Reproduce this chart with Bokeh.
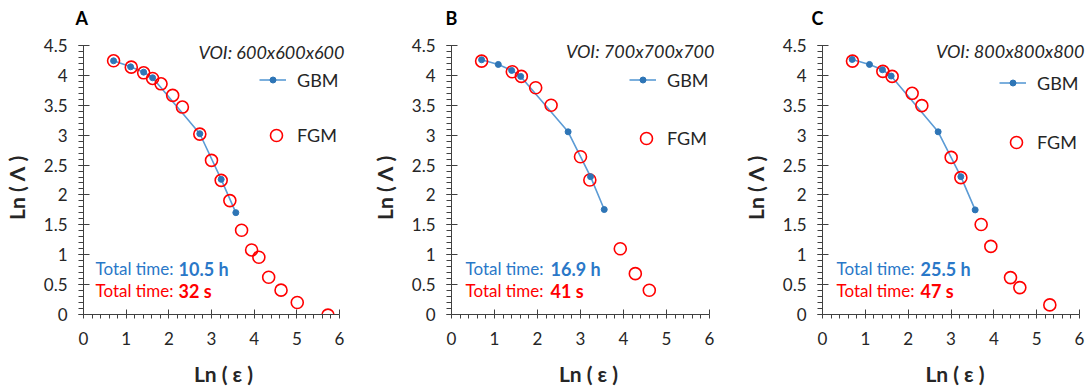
from bokeh.plotting import figure
from bokeh.models import (Label, Legend, LegendItem, SingleIntervalTicker,
                          NumeralTickFormatter, Range1d)
from bokeh.layouts import row
from bokeh.embed import file_html
from bokeh.resources import INLINE

# ---------------- data ----------------
panel_letters = ["A", "B", "C"]
voi_labels = ["VOI: 600x600x600", "VOI: 700x700x700", "VOI: 800x800x800"]
gbm_times = ["10.5 h", "16.9 h", "25.5 h"]
fgm_times = ["32 s", "41 s", "47 s"]

gbm_x_a = [0.705, 1.104, 1.41, 1.62, 2.726, 3.227, 3.57]
gbm_y_a = [4.244, 4.143, 4.054, 3.96, 3.024, 2.261, 1.704]
fgm_x_a = [0.705, 1.12, 1.41, 1.62, 1.817, 2.09, 2.318, 2.726, 3.0, 3.227,
           3.43, 3.705, 3.94, 4.11, 4.34, 4.63, 5.01, 5.73]
fgm_y_a = [4.244, 4.138, 4.043, 3.949, 3.859, 3.665, 3.47, 3.018, 2.579, 2.244,
           1.905, 1.409, 1.080, 0.958, 0.624, 0.407, 0.200, -0.011]

gbm_x_b = [0.70, 1.088, 1.399, 1.609, 2.712, 3.233, 3.552]
gbm_y_b = [4.261, 4.183, 4.083, 3.983, 3.056, 2.306, 1.756]
fgm_x_b = [0.70, 1.414, 1.624, 1.958, 2.316, 3.0, 3.217, 3.925, 4.275, 4.60]
fgm_y_b = [4.239, 4.061, 3.983, 3.794, 3.5, 2.639, 2.25, 1.1, 0.683, 0.406]

gbm_x_c = [0.693, 1.097, 1.40, 1.603, 2.70, 3.23, 3.564]
gbm_y_c = [4.267, 4.183, 4.094, 3.989, 3.056, 2.306, 1.75]
fgm_x_c = [0.70, 1.409, 1.626, 2.093, 2.319, 3.004, 3.23, 3.704, 3.93, 4.389,
           4.607, 5.307]
fgm_y_c = [4.239, 4.067, 3.983, 3.7, 3.494, 2.628, 2.289, 1.506, 1.139, 0.617,
           0.45, 0.161]

gbm_x = [gbm_x_a, gbm_x_b, gbm_x_c]
gbm_y = [gbm_y_a, gbm_y_b, gbm_y_c]
fgm_x = [fgm_x_a, fgm_x_b, fgm_x_c]
fgm_y = [fgm_y_a, fgm_y_b, fgm_y_c]

x_title = "Ln ( ε )"
y_title = "Ln ( Λ )"

# ---------------- styling / layout ----------------
FONT = "Lato"
TXT = "#262626"
AXIS = "#404040"
BLUE_LINE = "#5B9BD5"
BLUE_DOT = "#2E75B6"
BLUE_TXT = "#2A78C8"
RED = "#FF0000"

X0, X1, Y0, Y1 = 0, 6, 0, 4.5
PW = 362                      # width of one panel
AX_TOP, AX_BOTTOM = 45, 314   # pixel rows of y = 4.5 and y = 0
FTOP = 30                     # frame top (room for the panel letter above)
BOTTOM = 391 - AX_BOTTOM
# (global offset, pixel column of x = 0, pixel width of 0..6)
panels = [(0, 82, 256), (362, 88, 258), (724, 97, 257)]
legend_pos = [(258, 83, 135), (628, 83, 138), (998, 86, 142)]
voi_pos = [(343, 51), (713, 50), (1083, 50)]
letter_x = [74, 444, 810]
time_pos = [(94, 177), (464, 549), (835, 919)]
YPAD = "\u00a0" * 6           # shifts the rotated y title slightly downwards

SY = (AX_BOTTOM - AX_TOP) / (Y1 - Y0)


def to_data(i, gx, gy):
    off, left, fw = panels[i]
    sx = fw / (X1 - X0)
    return (gx - off - left) / sx + X0, (AX_BOTTOM - gy) / SY + Y0


figs = []
for i in range(3):
    off, left, fw = panels[i]
    sx = fw / (X1 - X0)
    frame_w = PW - left
    frame_h = AX_BOTTOM - FTOP
    p = figure(frame_width=frame_w, frame_height=frame_h, min_border_left=left,
               min_border_right=0, min_border_top=FTOP, min_border_bottom=BOTTOM,
               x_range=Range1d(X0, X0 + frame_w / sx),
               y_range=Range1d(Y0, Y0 + frame_h / SY),
               output_backend="svg", toolbar_location=None)
    p.outline_line_color = None
    p.grid.visible = False
    p.background_fill_color = "white"
    p.border_fill_color = "white"

    p.title.text = panel_letters[i]
    p.title.align = "left"
    p.title.offset = letter_x[i] - off - left
    p.title.text_font = FONT
    p.title.text_font_style = "bold"
    p.title.text_font_size = "18px"
    p.title.text_color = "black"
    p.title.standoff = 4

    p.xaxis.ticker = SingleIntervalTicker(interval=1, num_minor_ticks=5)
    p.yaxis.ticker = SingleIntervalTicker(interval=0.5, num_minor_ticks=5)
    p.xaxis.bounds = (X0, X1)
    p.yaxis.bounds = (Y0, Y1)
    for ax in (p.xaxis, p.yaxis):
        ax.formatter = NumeralTickFormatter(format="0.[0]")
        ax.axis_line_color = AXIS
        ax.major_tick_line_color = AXIS
        ax.minor_tick_line_color = AXIS
        ax.major_label_text_font = FONT
        ax.major_label_text_font_size = "17px"
        ax.major_label_text_color = TXT
        ax.axis_label_text_font = FONT
        ax.axis_label_text_font_style = "bold"
        ax.axis_label_text_font_size = "21px"
        ax.axis_label_text_color = TXT
    p.xaxis.major_tick_in = 5
    p.xaxis.major_tick_out = 0
    p.xaxis.minor_tick_in = 0
    p.xaxis.minor_tick_out = 4
    p.xaxis.major_label_standoff = 13
    p.xaxis.axis_label_standoff = 13
    p.yaxis.major_tick_in = 6
    p.yaxis.major_tick_out = 5
    p.yaxis.minor_tick_in = 0
    p.yaxis.minor_tick_out = 5
    p.yaxis.major_label_standoff = 11
    p.yaxis.axis_label_standoff = 12
    p.xaxis.axis_label = x_title
    p.yaxis.axis_label = y_title + YPAD

    gl = p.line(gbm_x[i], gbm_y[i], line_color=BLUE_LINE, line_width=1.6)
    fc = p.scatter(fgm_x[i], fgm_y[i], size=12, fill_color=None,
                   line_color=RED, line_width=1.6)
    gd = p.scatter(gbm_x[i], gbm_y[i], size=6, fill_color=BLUE_DOT,
                   line_color=BLUE_DOT)

    lx, ly1, ly2 = legend_pos[i]
    common = dict(orientation="vertical", padding=0, margin=0,
                  border_line_color=None, background_fill_alpha=0,
                  label_text_font=FONT, label_text_font_size="18px",
                  label_text_color=TXT)
    leg1 = Legend(items=[LegendItem(label="GBM", renderers=[gl, gd])],
                  location=(lx - off - left, AX_BOTTOM - (ly1 + 7.5)),
                  glyph_width=27, glyph_height=15, label_height=15,
                  label_standoff=11, **common)
    leg2 = Legend(items=[LegendItem(label="FGM", renderers=[fc])],
                  location=(lx + 2 - off - left, AX_BOTTOM - (ly2 + 15)),
                  glyph_width=30, glyph_height=30, label_height=30,
                  label_standoff=6, **common)
    p.add_layout(leg1)
    p.add_layout(leg2)

    # VOI
    x, y = to_data(i, *voi_pos[i])
    p.add_layout(Label(x=x, y=y, text=voi_labels[i], text_font=FONT,
                       text_font_style="italic", text_font_size="18px",
                       text_color=TXT, text_baseline="middle",
                       text_align="right"))
    # Total times
    tx, bx = time_pos[i]
    for txt, col, gy in ((gbm_times[i], BLUE_TXT, 268), (fgm_times[i], RED, 290)):
        x, y = to_data(i, tx, gy)
        p.add_layout(Label(x=x, y=y, text="Total time:", text_font=FONT,
                           text_font_size="17px", text_color=col,
                           text_baseline="middle", text_align="left"))
        x, y = to_data(i, bx, gy)
        p.add_layout(Label(x=x, y=y, text=txt, text_font=FONT,
                           text_font_style="bold", text_font_size="18px",
                           text_color=col, text_baseline="middle",
                           text_align="left"))
    figs.append(p)

layout = row(*figs, spacing=0)
open("out.html", "w").write(file_html(layout, INLINE))
